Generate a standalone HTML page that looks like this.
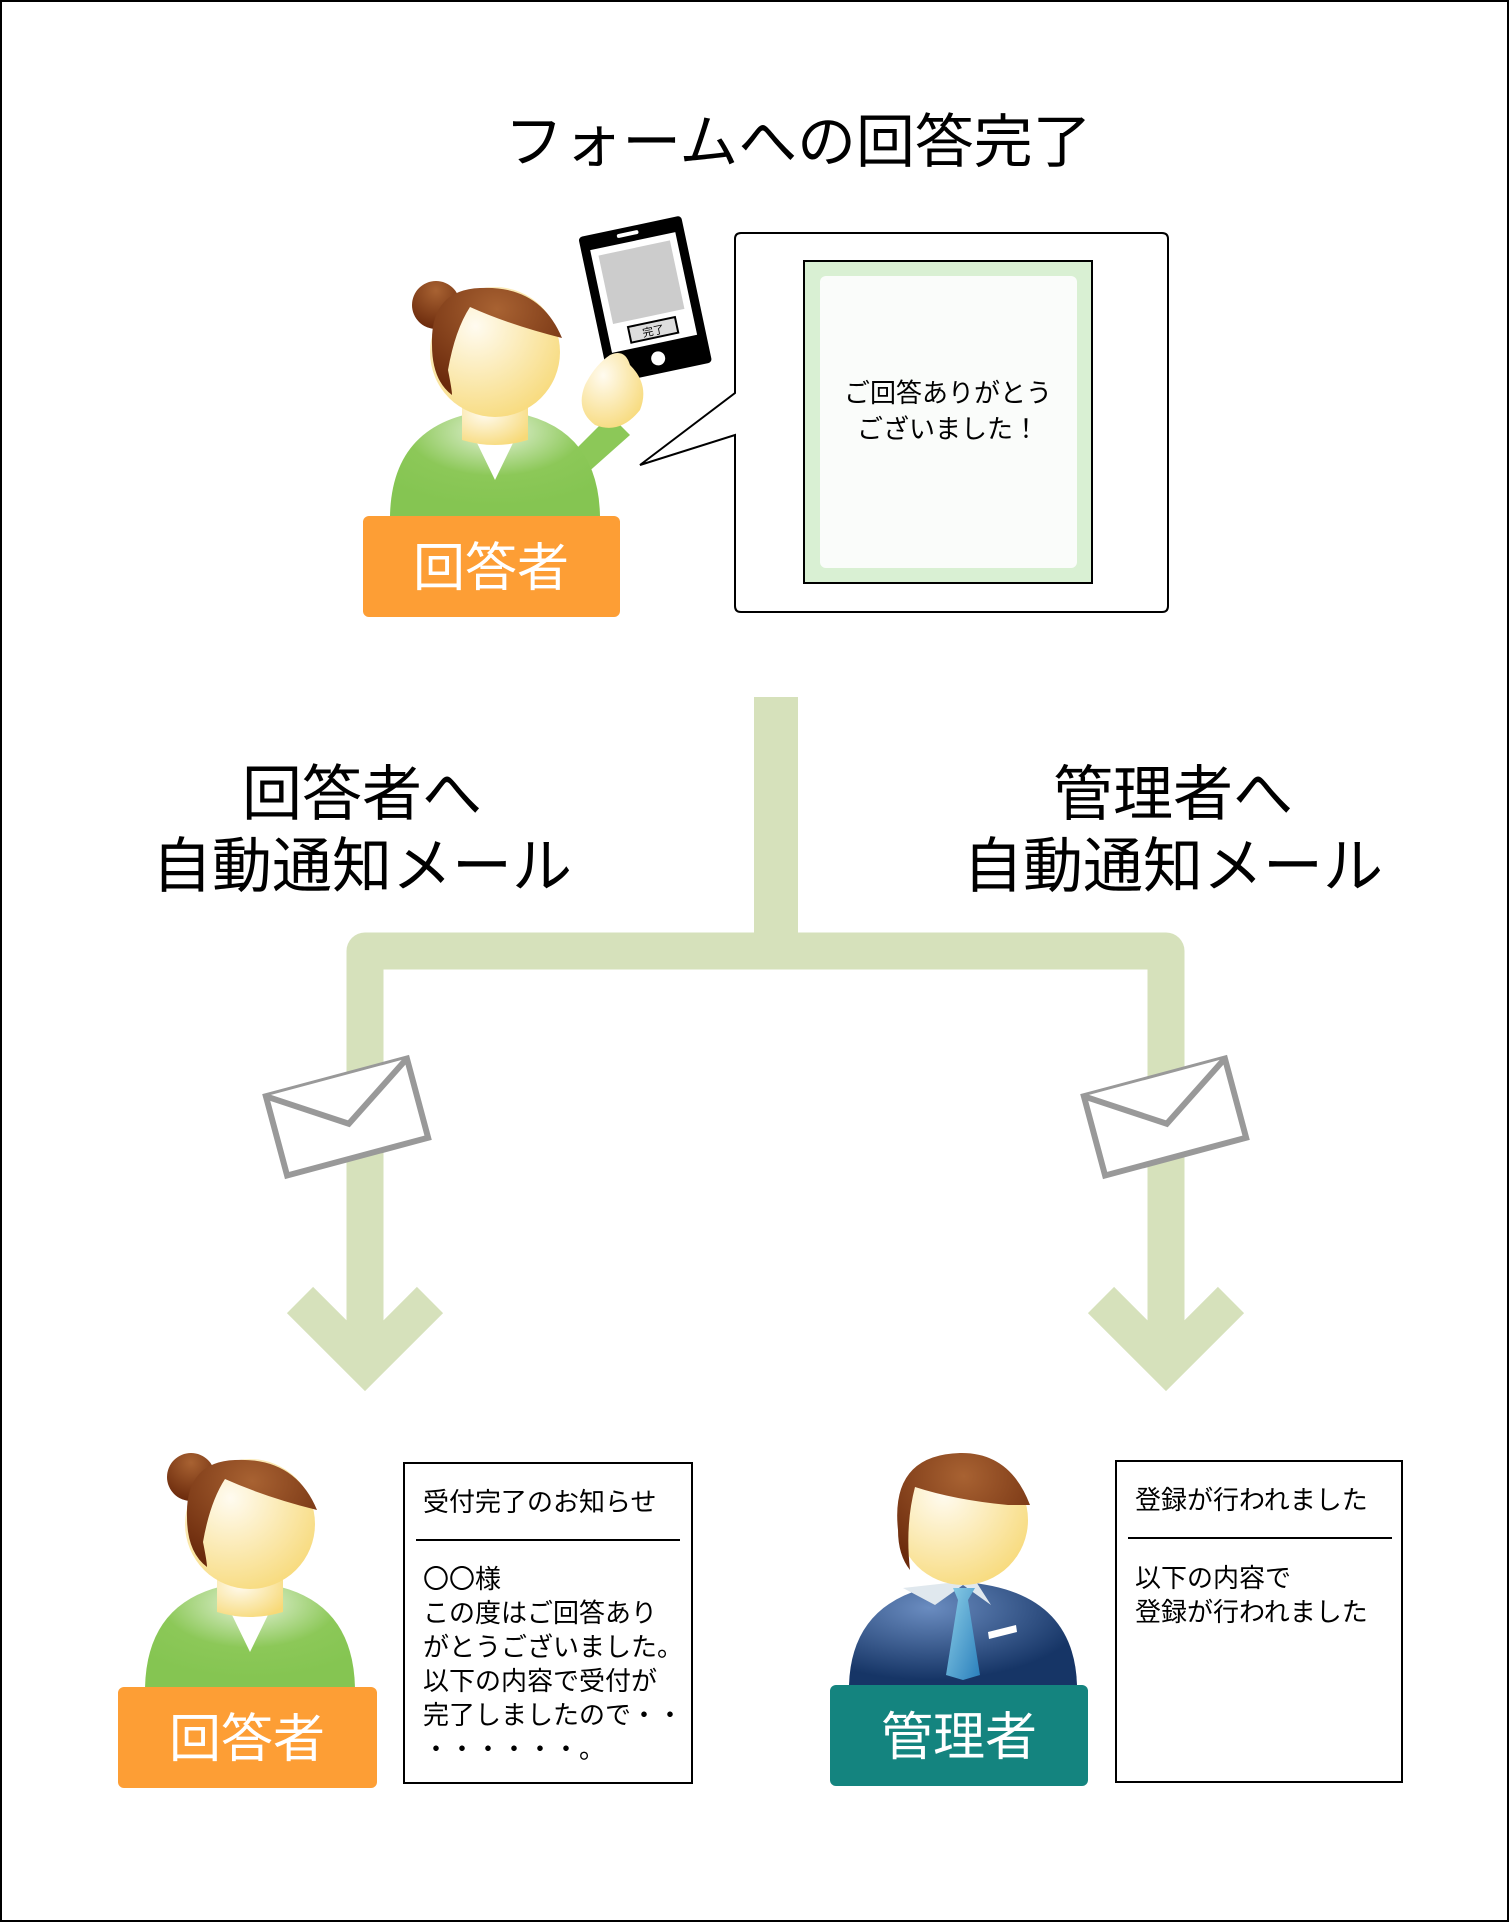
<!DOCTYPE html>
<html><head><meta charset="utf-8"><style>
html,body{margin:0;padding:0;background:#fff}
svg{display:block}
text{font-family:"Liberation Sans","Noto Sans CJK JP",sans-serif}
</style></head><body>
<svg width="1509" height="1922" viewBox="0 0 1509 1922" xmlns="http://www.w3.org/2000/svg">
<defs>
<radialGradient id="skin" cx="0.35" cy="0.3" r="0.8"><stop offset="0" stop-color="#fffbf0"/><stop offset="1" stop-color="#f7d977"/></radialGradient>
<radialGradient id="hair" cx="0.5" cy="0.2" r="0.8"><stop offset="0" stop-color="#a86232"/><stop offset="1" stop-color="#6b2a0c"/></radialGradient>
<radialGradient id="green" cx="0.5" cy="0.2" r="0.7"><stop offset="0" stop-color="#e4f2d8"/><stop offset="0.6" stop-color="#8cc858"/><stop offset="1" stop-color="#85c552"/></radialGradient>
<radialGradient id="navy" cx="0.35" cy="0.25" r="0.7"><stop offset="0" stop-color="#6a8cc0"/><stop offset="1" stop-color="#163566"/></radialGradient>
<linearGradient id="tie" x1="0" y1="0" x2="1" y2="1"><stop offset="0" stop-color="#8ed0e8"/><stop offset="1" stop-color="#2a7fbc"/></linearGradient>
</defs>
<rect x="1" y="1" width="1507" height="1920" fill="#fff" stroke="#000" stroke-width="2"/>

<text x="798" y="162" font-size="58" text-anchor="middle" textLength="587" lengthAdjust="spacingAndGlyphs">フォームへの回答完了</text>

<!-- top woman -->
<g>
<path d="M570 455 L610 415 L630 435 L585 475 Z" fill="#8cc858"/>
<path d="M390 516 Q392 418 495 410 Q598 418 600 516 Z" fill="url(#green)"/>
<path d="M462 412 L495 480 L528 412 Z" fill="#fff"/>
<path d="M462 400 L462 440 Q495 450 528 440 L528 400 Z" fill="url(#skin)"/>
<circle cx="495" cy="352" r="65" fill="url(#skin)"/>
<circle cx="436" cy="305" r="24" fill="url(#hair)"/>
<path d="M432 345 Q430 290 480 288 Q540 285 562 338 Q510 325 470 307 Q455 330 448 370 Q452 390 452 395 Q432 380 432 345 Z" fill="url(#hair)"/>
<g transform="rotate(-12 643 287)">
<rect x="590" y="225" width="105" height="150" rx="4" fill="#000"/>
<rect x="599" y="240" width="87" height="105" fill="#fff"/>
<rect x="606" y="247" width="73" height="70" fill="#ccc"/>
<rect x="620" y="323" width="48" height="16" fill="#ddd" stroke="#000" stroke-width="2"/>
<text x="644" y="336" font-size="11" text-anchor="middle">完了</text>
<circle cx="643" cy="360" r="7" fill="#fff"/>
<rect x="628" y="230" width="22" height="4" rx="2" fill="#fff"/>
</g>
<path d="M610 355 Q625 348 630 365 Q650 385 640 410 Q620 435 595 425 Q575 410 585 385 Q595 365 610 355 Z" fill="url(#skin)"/>
<rect x="363" y="516" width="257" height="101" rx="6" fill="#fd9e35"/>
<text x="491" y="586" font-size="52" fill="#fff" text-anchor="middle">回答者</text>
</g>

<!-- bubble -->
<path d="M741 233 H1162 Q1168 233 1168 239 V606 Q1168 612 1162 612 H741 Q735 612 735 606 V435 L640 465 L735 393 V239 Q735 233 741 233 Z" fill="#fff" stroke="#000" stroke-width="2"/>
<rect x="804" y="261" width="288" height="322" fill="#d9f0d3" stroke="#000" stroke-width="2"/>
<rect x="820" y="276" width="257" height="292" rx="6" fill="#fafcfa"/>
<text x="948" y="402" font-size="26" text-anchor="middle">ご回答ありがとう</text>
<text x="948" y="438" font-size="26" text-anchor="middle">ございました！</text>

<!-- connectors -->
<g stroke="#d6e1bb" fill="none">
<line x1="776" y1="697" x2="776" y2="945" stroke-width="44"/>
<path d="M365 1365 V951 H1166 V1365" stroke-linejoin="round" stroke-width="37"/>
<path d="M300 1300 L365 1365 L430 1300" stroke-width="37" stroke-linejoin="miter"/>
<path d="M1101 1300 L1166 1365 L1231 1300" stroke-width="37" stroke-linejoin="miter"/>
</g>

<g font-size="60" text-anchor="middle">
<text x="362" y="815">回答者へ</text>
<text x="362" y="887">自動通知メール</text>
<text x="1173" y="815">管理者へ</text>
<text x="1173" y="887">自動通知メール</text>
</g>

<!-- envelopes -->
<g fill="#fff" stroke="#999" stroke-width="6" stroke-linejoin="miter">
<g transform="rotate(-15 347 1117)"><rect x="274" y="1076" width="146" height="82"/><path d="M274 1076 L347 1124 L420 1076"/></g>
<g transform="rotate(-15 1165 1117)"><rect x="1092" y="1076" width="146" height="82"/><path d="M1092 1076 L1165 1124 L1238 1076"/></g>
</g>

<!-- bottom woman -->
<g>
<path d="M145 1688 Q147 1590 250 1582 Q353 1590 355 1688 Z" fill="url(#green)"/>
<path d="M217 1584 L250 1652 L283 1584 Z" fill="#fff"/>
<path d="M217 1572 L217 1612 Q250 1622 283 1612 L283 1572 Z" fill="url(#skin)"/>
<circle cx="250" cy="1524" r="65" fill="url(#skin)"/>
<circle cx="191" cy="1477" r="24" fill="url(#hair)"/>
<path d="M187 1517 Q185 1462 235 1460 Q295 1457 317 1510 Q265 1497 225 1479 Q210 1502 203 1542 Q207 1562 207 1567 Q187 1552 187 1517 Z" fill="url(#hair)"/>
<rect x="118" y="1687" width="259" height="101" rx="6" fill="#fd9e35"/>
<text x="247" y="1757" font-size="52" fill="#fff" text-anchor="middle">回答者</text>
</g>
<rect x="404" y="1463" width="288" height="320" fill="#fff" stroke="#000" stroke-width="2"/>
<text x="423" y="1511" font-size="26">受付完了のお知らせ</text>
<line x1="416" y1="1540" x2="680" y2="1540" stroke="#000" stroke-width="2"/>
<g font-size="26">
<text x="423" y="1588">〇〇様</text>
<text x="423" y="1622">この度はご回答あり</text>
<text x="423" y="1656">がとうございました。</text>
<text x="423" y="1690">以下の内容で受付が</text>
<text x="423" y="1724">完了しましたので・・</text>
<text x="423" y="1758">・・・・・・。</text>
</g>

<!-- admin -->
<g>
<path d="M849 1685 Q852 1590 963 1582 Q1074 1590 1077 1685 Z" fill="url(#navy)"/>
<path d="M903 1588 L935 1605 L963 1585 L991 1605 L975 1580 Z" fill="#e0e8ee"/>
<path d="M953 1588 H975 L968 1600 L980 1675 L963 1680 L946 1675 L958 1600 Z" fill="url(#tie)"/>
<path d="M988 1632 L1016 1625 L1017 1632 L989 1639 Z" fill="#fff"/>
<circle cx="963" cy="1520" r="65" fill="url(#skin)"/>
<path d="M898 1530 Q890 1455 960 1453 Q1010 1452 1030 1505 L1008 1505 Q955 1500 915 1487 Q905 1525 910 1570 Q898 1555 898 1530 Z" fill="url(#hair)"/>
<rect x="830" y="1685" width="258" height="101" rx="6" fill="#14847f"/>
<text x="959" y="1755" font-size="52" fill="#fff" text-anchor="middle">管理者</text>
</g>
<rect x="1116" y="1461" width="286" height="321" fill="#fff" stroke="#000" stroke-width="2"/>
<text x="1135" y="1509" font-size="26">登録が行われました</text>
<line x1="1128" y1="1538" x2="1392" y2="1538" stroke="#000" stroke-width="2"/>
<text x="1135" y="1587" font-size="26">以下の内容で</text>
<text x="1135" y="1621" font-size="26">登録が行われました</text>
</svg>
</body></html>
